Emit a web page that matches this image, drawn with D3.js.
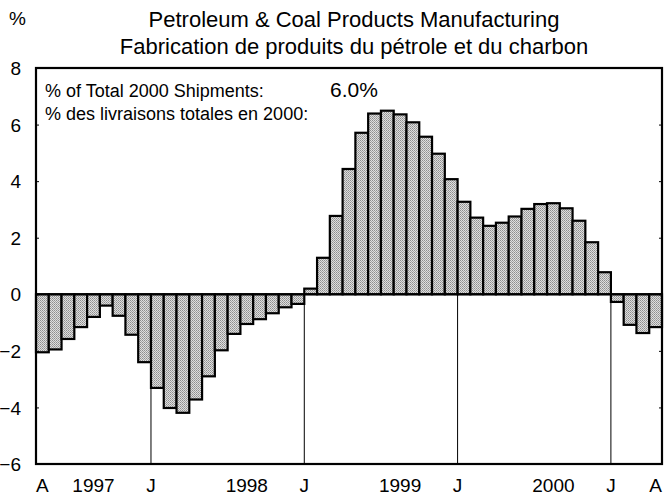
<!DOCTYPE html>
<html lang="en">
<head>
    <meta charset="UTF-8">
    <title>Petroleum & Coal Products</title>
    <style>
        body { margin: 0; background: #fff; }
        text { font-family: "Liberation Sans", Arial, sans-serif; fill: #000; }
    </style>
</head>
<body>
    <svg id="chart" width="669" height="495"></svg>
    <script src="https://cdn.jsdelivr.net/npm/d3@7"></script>
    <script>
        // monthly categories, April 1997 to April 2001
        var months = [
            "1997-04","1997-05","1997-06","1997-07","1997-08","1997-09","1997-10","1997-11","1997-12",
            "1998-01","1998-02","1998-03","1998-04","1998-05","1998-06","1998-07","1998-08","1998-09","1998-10","1998-11","1998-12",
            "1999-01","1999-02","1999-03","1999-04","1999-05","1999-06","1999-07","1999-08","1999-09","1999-10","1999-11","1999-12",
            "2000-01","2000-02","2000-03","2000-04","2000-05","2000-06","2000-07","2000-08","2000-09","2000-10","2000-11","2000-12",
            "2001-01","2001-02","2001-03","2001-04"
        ];
        var values = [
            -2.05, -1.95, -1.58, -1.16, -0.80, -0.40, -0.76, -1.43, -2.40,
            -3.31, -4.02, -4.19, -3.72, -2.90, -1.98, -1.40, -1.05, -0.88, -0.67, -0.46, -0.34,
            0.20, 1.29, 2.77, 4.43, 5.71, 6.39, 6.49, 6.36, 6.08, 5.57, 4.97, 4.07,
            3.27, 2.71, 2.42, 2.53, 2.75, 3.02, 3.19, 3.22, 3.04, 2.60, 1.84, 0.78,
            -0.27, -1.08, -1.37, -1.16
        ];
        var yTicks = [-6, -4, -2, 0, 2, 4, 6, 8];
        var yearStarts = ["1998-01", "1999-01", "2000-01", "2001-01"];
        var xTickMonths = ["1997-04", "1997-08", "1998-01", "1998-08", "1999-01", "1999-08", "2000-01", "2000-08", "2001-01", "2001-04"];
        var xTickTexts = ["A", "1997", "J", "1998", "J", "1999", "J", "2000", "J", "A"];
        var titleLines = ["Petroleum & Coal Products Manufacturing", "Fabrication de produits du pétrole et du charbon"];
        var shareLabels = ["% of Total 2000 Shipments:", "% des livraisons totales en 2000:"];
        var shareValue = "6.0%";

        var plotLeft = 36, plotRight = 662, plotTop = 68, plotBottom = 464;

        var svg = d3.select("#chart");

        // fine checker fill, reads like the printed halftone
        var pat = svg.append("defs").append("pattern")
            .attr("id", "dots")
            .attr("width", 2).attr("height", 2)
            .attr("patternUnits", "userSpaceOnUse");
        pat.append("rect").attr("width", 2).attr("height", 2).attr("fill", "#dedede");
        pat.append("rect").attr("x", 0).attr("y", 0).attr("width", 1).attr("height", 1).attr("fill", "#8e8e8e");
        pat.append("rect").attr("x", 1).attr("y", 1).attr("width", 1).attr("height", 1).attr("fill", "#a4a4a4");

        var x = d3.scaleBand().domain(months).range([plotLeft, plotRight]).padding(0);
        var y = d3.scaleLinear().domain([-6, 8]).range([plotBottom, plotTop]);

        // titles
        svg.append("text").attr("x", 9).attr("y", 25).attr("font-size", 19).text("%");
        svg.selectAll(".title")
            .data(titleLines)
            .join("text")
            .attr("class", "title")
            .attr("x", 354)
            .attr("y", (d, i) => 27 + i * 27)
            .attr("text-anchor", "middle")
            .attr("font-size", 22)
            .text(d => d);

        // january divider lines
        svg.append("g")
            .selectAll("line")
            .data(yearStarts)
            .join("line")
            .attr("x1", d => x(d)).attr("x2", d => x(d))
            .attr("y1", y(0)).attr("y2", y(-6))
            .attr("stroke", "#000")
            .attr("stroke-width", 1);

        // bars
        svg.append("g")
            .selectAll("rect")
            .data(values)
            .join("rect")
            .attr("x", (d, i) => x(months[i]))
            .attr("width", x.bandwidth())
            .attr("y", d => y(Math.max(0, d)))
            .attr("height", d => Math.abs(y(d) - y(0)))
            .attr("fill", "url(#dots)")
            .attr("stroke", "#000")
            .attr("stroke-width", 2.2);

        // zero line
        svg.append("line")
            .attr("x1", plotLeft).attr("x2", plotRight)
            .attr("y1", y(0)).attr("y2", y(0))
            .attr("stroke", "#000").attr("stroke-width", 2);

        // frame
        svg.append("rect")
            .attr("x", plotLeft).attr("y", plotTop)
            .attr("width", plotRight - plotLeft).attr("height", plotBottom - plotTop)
            .attr("fill", "none").attr("stroke", "#000").attr("stroke-width", 2.2);

        // y axis
        svg.append("g")
            .attr("transform", `translate(${plotLeft},0)`)
            .call(d3.axisLeft(y).tickValues(yTicks).tickSize(-3).tickPadding(15).tickFormat(d3.format("d")))
            .call(g => g.select(".domain").remove())
            .call(g => g.selectAll("text").attr("font-size", 19).attr("font-family", null).attr("dy", "0.35em"));
        svg.append("g")
            .attr("transform", `translate(${plotRight},0)`)
            .call(d3.axisRight(y).tickValues(yTicks).tickSize(-3).tickFormat(""))
            .call(g => g.select(".domain").remove());

        // x labels
        svg.append("g")
            .selectAll("text")
            .data(xTickMonths)
            .join("text")
            .attr("x", (d, i) => xTickTexts[i] === "J" ? x(d) : x(d) + x.bandwidth() / 2)
            .attr("y", 492)
            .attr("text-anchor", "middle")
            .attr("font-size", 19)
            .text((d, i) => xTickTexts[i]);

        // share annotation
        svg.selectAll(".share")
            .data(shareLabels)
            .join("text")
            .attr("class", "share")
            .attr("x", 45)
            .attr("y", (d, i) => 97 + i * 23)
            .attr("font-size", 18)
            .text(d => d);
        svg.append("text")
            .attr("x", 330).attr("y", 97)
            .attr("font-size", 21)
            .text(shareValue);
    </script>
</body>
</html>
